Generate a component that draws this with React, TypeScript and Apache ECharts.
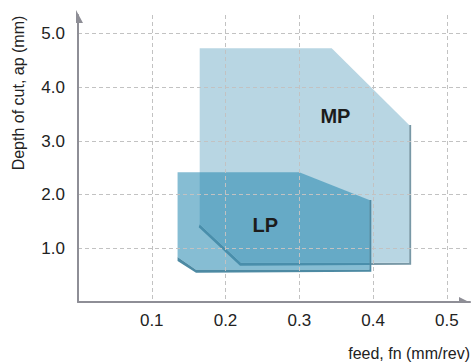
import React, { useEffect, useRef } from 'react';
import * as echarts from 'echarts';

// ---- data ----
const xTicks = [0.1, 0.2, 0.3, 0.4, 0.5];
const yTicks = [1.0, 2.0, 3.0, 4.0, 5.0];
const regionNames = ['MP', 'LP'];
// polygon vertices (feed mm/rev, depth mm): TL, TR, diag end, BR, BL, chamfer start
const mpFeed = [0.165, 0.344, 0.449, 0.449, 0.221, 0.165];
const mpDepth = [4.73, 4.73, 3.3, 0.73, 0.73, 1.45];
const lpFeed = [0.135, 0.3, 0.395, 0.395, 0.16, 0.135];
const lpDepth = [2.42, 2.42, 1.9, 0.6, 0.6, 0.84];
const labelFeed = [0.349, 0.254];
const labelDepth = [3.47, 1.44];

const FONT = '"Liberation Sans", Arial, Helvetica, sans-serif';
const AXIS_COLOR = '#8e8e96';

const shapes = [
  { xs: mpFeed, ys: mpDepth, fill: '#b8d6e3', band: '#7898a6', off: [[2, 0], [2, 2], [-1, 3], [-1, 3]] },
  { xs: lpFeed, ys: lpDepth, fill: 'rgba(35,135,175,0.55)', band: '#4d8aa3', off: [[2, 0], [2, 2], [0, 3], [0, 4]] },
];

const isTick = (ticks: number[], v: number) => ticks.some((t) => Math.abs(t - v) < 1e-6);

export default function App() {
  const ref = useRef<HTMLDivElement>(null);
  useEffect(() => {
    document.body.style.margin = '0';
    const chart = echarts.init(ref.current!, null, { renderer: 'svg' });
    const option: any = {
      animation: false,
      grid: { left: 78, right: 2, top: 15, bottom: 61, outerBoundsMode: 'none', containLabel: false },
      xAxis: {
        type: 'value',
        min: 0,
        max: 0.5315,
        interval: 0.1,
        z: 5,
        axisLine: { show: true, lineStyle: { color: AXIS_COLOR, width: 2 } },
        axisTick: { show: false },
        axisLabel: {
          margin: 10,
          fontSize: 17,
          fontFamily: FONT,
          color: '#222',
          formatter: (v: number) => (isTick(xTicks, v) ? v.toFixed(1) : ''),
        },
        splitLine: { show: true, showMinLine: false, showMaxLine: false, lineStyle: { color: '#c2c2c2', type: [4, 3], width: 1 } },
      },
      yAxis: {
        type: 'value',
        min: 0,
        max: 5.349,
        interval: 1,
        z: 5,
        axisLine: { show: true, lineStyle: { color: AXIS_COLOR, width: 2 } },
        axisTick: { show: false },
        axisLabel: {
          margin: 13,
          fontSize: 17,
          fontFamily: FONT,
          color: '#222',
          formatter: (v: number) => (isTick(yTicks, v) ? v.toFixed(1) : ''),
        },
        splitLine: { show: true, showMinLine: false, showMaxLine: false, lineStyle: { color: '#c2c2c2', type: [4, 3], width: 1 } },
      },
      graphic: [
        { type: 'polygon', shape: { points: [[76, 10], [83, 23], [76, 23]] }, style: { fill: AXIS_COLOR } },
        { type: 'polygon', shape: { points: [[471, 303], [459, 297], [459, 303]] }, style: { fill: AXIS_COLOR } },
        {
          type: 'text', x: 18, y: 93, rotation: Math.PI / 2,
          style: { text: 'Depth of cut, ap (mm)', fontSize: 16, fontFamily: FONT, fill: '#222', align: 'center', verticalAlign: 'middle' },
        },
        {
          type: 'text', x: 470, y: 353,
          style: { text: 'feed, fn (mm/rev)', fontSize: 16, fontFamily: FONT, fill: '#222', align: 'right', verticalAlign: 'middle' },
        },
      ],
      series: [
        {
          type: 'custom',
          clip: false,
          z: 2,
          data: regionNames.map((n, i) => [labelFeed[i], labelDepth[i]]),
          renderItem: (params: any, api: any) => {
            const i = params.dataIndex;
            const s = shapes[i];
            const pts = s.xs.map((x, k) => api.coord([x, s.ys[k]]));
            // band along right, bottom and chamfer edges (vertices 2..5)
            const edge = [pts[2], pts[3], pts[4], pts[5]];
            const shifted = edge.map((p, k) => [p[0] + s.off[k][0], p[1] + s.off[k][1]]);
            const band = [...edge, ...shifted.reverse()];
            const c = api.coord([labelFeed[i], labelDepth[i]]);
            return {
              type: 'group',
              children: [
                { type: 'polygon', shape: { points: band }, style: { fill: s.band } },
                { type: 'polygon', shape: { points: pts }, style: { fill: s.fill } },
                {
                  type: 'text', x: c[0], y: c[1],
                  style: { text: regionNames[i], fontSize: 20, fontWeight: 'bold', fontFamily: FONT, fill: '#1c1c1c', align: 'center', verticalAlign: 'middle' },
                },
              ],
            };
          },
        },
      ],
    };
    chart.setOption(option);
    return () => chart.dispose();
  }, []);
  return <div ref={ref} style={{ width: 472, height: 363 }} />;
}
